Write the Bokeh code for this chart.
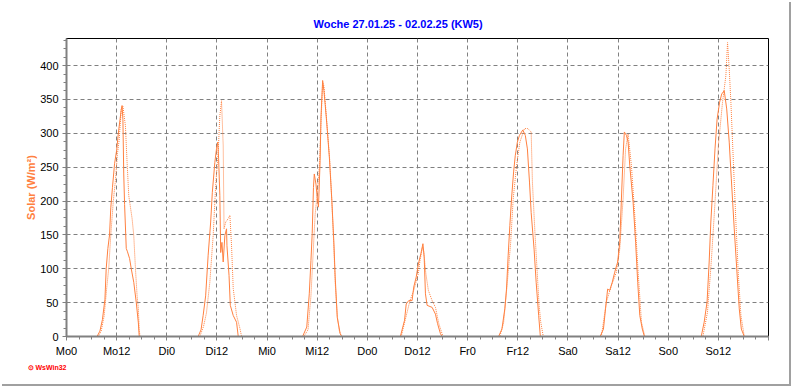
from bokeh.plotting import figure
from bokeh.models import Range1d, FixedTicker, ColumnDataSource, Title
from bokeh.embed import file_html
from bokeh.resources import INLINE

# ---- data (hour of day, W/m²) ----
day_names = ["Mo", "Di", "Mi", "Do", "Fr", "Sa", "So"]

mo_h_solid = [7.3, 8.0, 8.6, 9.2, 9.5, 9.9, 10.3, 10.6, 11.0, 11.5, 12.0, 12.4, 12.8, 13.1, 13.3, 13.5, 13.7, 13.9, 14.3, 14.6, 15.1, 15.5, 16.1, 16.7, 17.2, 17.4]
mo_v_solid = [0, 8, 25, 55, 100, 130, 150, 190, 220, 255, 275, 300, 320, 335, 341, 320, 240, 195, 130, 125, 115, 100, 80, 50, 20, 0]
mo_h_dot = [7.6, 8.3, 9.0, 9.6, 10.1, 10.6, 11.2, 11.7, 12.2, 12.6, 13.1, 13.5, 14.1, 14.5, 14.9, 15.7, 16.1, 16.5, 16.9, 17.2, 17.4, 17.6]
mo_v_dot = [0, 8, 30, 70, 100, 150, 200, 230, 270, 290, 335, 340, 311, 257, 208, 174, 149, 100, 60, 41, 10, 0]

di_h_solid = [7.5, 8.2, 8.7, 9.3, 9.9, 10.5, 10.9, 11.5, 11.9, 12.2, 12.4, 12.7, 12.9, 13.2, 13.5, 13.9, 14.3, 14.4, 14.9, 15.2, 15.9, 16.7, 17.1]
di_v_solid = [0, 10, 31, 60, 120, 169, 213, 257, 277, 287, 263, 208, 124, 139, 110, 149, 159, 134, 90, 46, 31, 21, 0]
di_h_dot = [7.9, 8.8, 9.5, 10.3, 11.1, 11.7, 12.3, 12.7, 13.1, 13.5, 13.7, 14.1, 14.7, 15.1, 15.5, 15.9, 16.7, 17.5, 17.9]
di_v_dot = [0, 15, 35, 80, 149, 223, 272, 326, 348, 282, 159, 169, 174, 179, 134, 71, 31, 12, 0]

mi_h_solid = [8.5, 9.5, 10.1, 10.5, 10.8, 11.1, 11.3, 11.7, 12.0, 12.3, 12.7, 12.9, 13.3, 13.6, 13.9, 14.3, 14.9, 15.5, 16.0, 16.3, 16.8, 17.5, 17.9]
mi_v_solid = [0, 14, 63, 112, 152, 220, 240, 225, 206, 191, 260, 324, 378, 363, 343, 314, 265, 201, 137, 88, 28, 4, 0]
mi_h_dot = [8.8, 9.8, 10.5, 11.0, 11.5, 12.0, 12.5, 13.0, 13.3, 13.6, 14.0, 14.5, 15.0, 15.5, 16.0, 16.3, 16.8, 17.3, 17.8]
mi_v_dot = [0, 10, 60, 120, 180, 210, 250, 330, 375, 370, 340, 300, 260, 200, 130, 80, 30, 8, 0]

do_h_solid = [7.9, 8.9, 9.3, 9.9, 10.7, 11.1, 11.7, 12.2, 12.8, 13.3, 13.6, 13.9, 14.3, 15.5, 16.3, 16.8, 17.5, 17.9]
do_v_solid = [0, 24, 48, 53, 53, 73, 88, 107, 122, 137, 117, 63, 46, 43, 33, 19, 4, 0]
do_h_dot = [8.1, 9.4, 10.2, 11.1, 12.2, 12.6, 13.2, 13.5, 14.0, 14.6, 15.5, 16.3, 17.1, 18.1]
do_v_dot = [0, 33, 53, 68, 93, 112, 132, 125, 93, 68, 53, 43, 19, 0]

fr_h_solid = [7.4, 8.2, 8.9, 9.3, 9.7, 10.1, 10.5, 11.0, 11.4, 11.9, 12.4, 13.2, 13.8, 14.3, 14.8, 15.2, 15.9, 16.4, 17.0, 17.4]
fr_v_solid = [0, 11, 41, 70, 120, 164, 203, 243, 267, 287, 297, 305, 297, 277, 228, 183, 129, 80, 31, 0]
fr_h_dot = [7.7, 8.6, 9.5, 10.3, 10.9, 11.7, 12.5, 13.6, 14.4, 15.2, 15.5, 16.1, 16.6, 17.1, 17.5, 18.1]
fr_v_dot = [0, 20, 80, 139, 203, 252, 287, 307, 307, 302, 228, 154, 100, 46, 21, 0]

sa_h_solid = [7.7, 8.5, 9.0, 9.5, 10.0, 10.6, 11.2, 11.9, 12.4, 12.8, 13.2, 13.5, 14.0, 14.4, 14.8, 15.6, 16.2, 16.7, 17.2, 17.8, 18.3]
sa_v_solid = [0, 11, 41, 70, 68, 80, 95, 110, 139, 203, 267, 302, 297, 287, 252, 198, 139, 80, 31, 11, 0]
sa_h_dot = [8.0, 9.2, 10.4, 11.6, 12.4, 13.2, 13.8, 14.4, 15.2, 16.0, 16.8, 17.6, 18.4]
sa_v_dot = [0, 51, 75, 95, 129, 203, 277, 299, 252, 179, 95, 21, 0]

so_h_solid = [7.9, 8.6, 9.3, 9.8, 10.2, 10.7, 11.2, 11.7, 12.3, 12.8, 13.4, 14.0, 14.6, 15.1, 15.8, 16.4, 17.0, 17.5, 18.2]
so_v_solid = [0, 21, 51, 110, 169, 223, 277, 321, 346, 358, 363, 336, 287, 233, 159, 100, 41, 11, 0]
so_h_dot = [8.3, 9.4, 10.3, 11.2, 12.0, 13.0, 13.8, 14.2, 14.6, 15.0, 15.6, 16.2, 16.8, 17.4, 18.2]
so_v_dot = [0, 36, 110, 198, 282, 346, 385, 434, 395, 346, 257, 169, 90, 31, 0]

y_ticks = [0, 50, 100, 150, 200, 250, 300, 350, 400]
x_tick_hours = list(range(0, 169, 12))
x_tick_labels = [f"{d}{h}" for d in day_names for h in (0, 12)] + [""]

solid_days = [(mo_h_solid, mo_v_solid), (di_h_solid, di_v_solid), (mi_h_solid, mi_v_solid),
              (do_h_solid, do_v_solid), (fr_h_solid, fr_v_solid), (sa_h_solid, sa_v_solid),
              (so_h_solid, so_v_solid)]
dot_days = [(mo_h_dot, mo_v_dot), (di_h_dot, di_v_dot), (mi_h_dot, mi_v_dot),
            (do_h_dot, do_v_dot), (fr_h_dot, fr_v_dot), (sa_h_dot, sa_v_dot),
            (so_h_dot, so_v_dot)]


def build(days):
    xs, ys = [0.0], [0.0]
    for i, (h, v) in enumerate(days):
        xs += [i * 24 + t for t in h]
        ys += list(v)
    xs.append(168.0)
    ys.append(0.0)
    return ColumnDataSource(dict(x=xs, y=ys))


ORANGE = "#FF8040"
GRAY = "#808080"
FONT = "Liberation Sans"

p = figure(width=789, height=384, output_backend="svg", toolbar_location=None,
           x_range=Range1d(0, 168), y_range=Range1d(0, 440),
           min_border_left=66, min_border_right=21, min_border_top=38, min_border_bottom=48)
p.styles = {"box-shadow": "2px 2px 0 0 #a0a0a0"}
p.background_fill_color = "white"
p.border_fill_color = "white"
p.outline_line_color = "black"
p.outline_line_width = 1

p.line("x", "y", source=build(dot_days), line_color=ORANGE, line_width=1, line_dash="1 1")
p.line("x", "y", source=build(solid_days), line_color=ORANGE, line_width=1)

p.xaxis.ticker = FixedTicker(ticks=x_tick_hours, minor_ticks=list(range(0, 169, 3)))
p.xaxis.major_label_overrides = {h: lab for h, lab in zip(x_tick_hours, x_tick_labels)}
p.yaxis.ticker = FixedTicker(ticks=y_ticks, minor_ticks=[i * 12.5 for i in range(36)])

for ax in (p.xaxis[0], p.yaxis[0]):
    ax.axis_line_color = GRAY
    ax.axis_line_width = 2
    ax.major_tick_line_color = GRAY
    ax.minor_tick_line_color = GRAY
    ax.major_tick_in = 0
    ax.minor_tick_in = 0
    ax.major_tick_out = 4
    ax.minor_tick_out = 3
    ax.major_label_text_font = FONT
    ax.major_label_text_font_size = "11px"
    ax.major_label_text_color = "black"
    ax.major_label_standoff = 4

p.yaxis.axis_label = "Solar (W/m²)"
p.yaxis.axis_label_text_color = ORANGE
p.yaxis.axis_label_text_font = FONT
p.yaxis.axis_label_text_font_style = "bold"
p.yaxis.axis_label_text_font_size = "11px"
p.yaxis.axis_label_standoff = 0

for g in (p.xgrid[0], p.ygrid[0]):
    g.grid_line_color = GRAY
    g.grid_line_dash = "4 3"
    g.grid_line_width = 1
p.xgrid.ticker = FixedTicker(ticks=x_tick_hours)
p.ygrid.ticker = FixedTicker(ticks=y_ticks)

p.title.text = "Woche 27.01.25 - 02.02.25 (KW5)"
p.title.align = "left"
p.title.offset = 247
p.title.text_color = "#0000FF"
p.title.text_font = FONT
p.title.text_font_style = "bold"
p.title.text_font_size = "11px"
p.title.standoff = 17

logo = Title(text="⊙ WsWin32", align="left", offset=-39, text_color="#FF0000",
             text_font=FONT, text_font_style="bold", text_font_size="7px", standoff=4)
p.add_layout(logo, "below")

open("out.html", "w").write(file_html(p, INLINE))
